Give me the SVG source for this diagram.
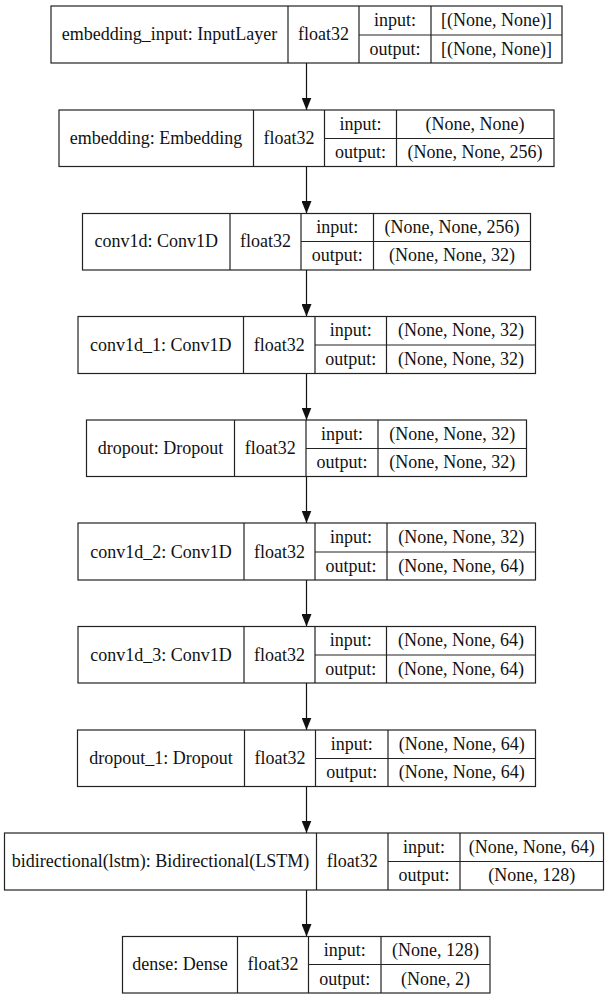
<svg xmlns="http://www.w3.org/2000/svg" width="605" height="994" viewBox="0 0 605 994">
<style>
  .box{fill:#fff;stroke:#222;stroke-width:1.2}
  .ln{stroke:#222;stroke-width:1.2;fill:none}
  .edge{stroke:#111;stroke-width:1.2;fill:none}
  text{font-family:'Liberation Serif','Times New Roman',serif;font-size:18px;fill:#111;text-anchor:middle}
</style>
<defs>
  <marker id="ah" markerUnits="userSpaceOnUse" markerWidth="12.5" markerHeight="10" refX="12.5" refY="5" orient="auto">
    <path d="M0,0 L12.5,5 L0,10 z" fill="#111"/>
  </marker>
</defs>
<rect width="605" height="994" fill="#fff"/>
<g id="connectors">
  <line class="edge" x1="306.5" y1="63" x2="306.5" y2="110" marker-end="url(#ah)"/>
  <line class="edge" x1="306.5" y1="166.5" x2="306.5" y2="213.5" marker-end="url(#ah)"/>
  <line class="edge" x1="306.5" y1="270" x2="306.5" y2="316.5" marker-end="url(#ah)"/>
  <line class="edge" x1="306.5" y1="373.5" x2="306.5" y2="420" marker-end="url(#ah)"/>
  <line class="edge" x1="306.5" y1="476.5" x2="306.5" y2="523" marker-end="url(#ah)"/>
  <line class="edge" x1="306.5" y1="580" x2="306.5" y2="626.5" marker-end="url(#ah)"/>
  <line class="edge" x1="306.5" y1="683" x2="306.5" y2="730" marker-end="url(#ah)"/>
  <line class="edge" x1="306.5" y1="786.5" x2="306.5" y2="833" marker-end="url(#ah)"/>
  <line class="edge" x1="306.5" y1="890" x2="306.5" y2="936.5" marker-end="url(#ah)"/>
</g>
<g id="embedding_input">
  <rect class="box" x="51" y="6" width="511" height="57"/>
  <path class="ln" d="M288,6V63 M359,6V63 M431,6V63 M359,35H562"/>
  <text x="169.5" y="40">embedding_input: InputLayer</text>
  <text x="323.5" y="40">float32</text>
  <text x="395" y="26">input:</text>
  <text x="395" y="54.5">output:</text>
  <text x="496.5" y="26">[(None, None)]</text>
  <text x="496.5" y="54.5">[(None, None)]</text>
</g>
<g id="embedding">
  <rect class="box" x="59" y="110" width="495" height="56.5"/>
  <path class="ln" d="M253.5,110V166.5 M324.5,110V166.5 M396.5,110V166.5 M324.5,138.5H554"/>
  <text x="156" y="143.5">embedding: Embedding</text>
  <text x="289" y="143.5">float32</text>
  <text x="360.5" y="129.5">input:</text>
  <text x="360.5" y="158">output:</text>
  <text x="475" y="129.5">(None, None)</text>
  <text x="475" y="158">(None, None, 256)</text>
</g>
<g id="conv1d">
  <rect class="box" x="82.5" y="213.5" width="448" height="56.5"/>
  <path class="ln" d="M230,213.5V270 M301,213.5V270 M373.5,213.5V270 M301,241.5H530.5"/>
  <text x="156.3" y="247">conv1d: Conv1D</text>
  <text x="265.5" y="247">float32</text>
  <text x="337.3" y="233">input:</text>
  <text x="337.3" y="261">output:</text>
  <text x="452" y="233">(None, None, 256)</text>
  <text x="452" y="261">(None, None, 32)</text>
</g>
<g id="conv1d_1">
  <rect class="box" x="78" y="316.5" width="457.5" height="57"/>
  <path class="ln" d="M243.5,316.5V373.5 M315,316.5V373.5 M386.5,316.5V373.5 M315,345H535.5"/>
  <text x="160.8" y="350.5">conv1d_1: Conv1D</text>
  <text x="279.3" y="350.5">float32</text>
  <text x="350.8" y="336">input:</text>
  <text x="350.8" y="364.5">output:</text>
  <text x="461" y="336">(None, None, 32)</text>
  <text x="461" y="364.5">(None, None, 32)</text>
</g>
<g id="dropout">
  <rect class="box" x="86.5" y="420" width="440" height="56.5"/>
  <path class="ln" d="M234.5,420V476.5 M306,420V476.5 M378,420V476.5 M306,448.5H526.5"/>
  <text x="160.5" y="454">dropout: Dropout</text>
  <text x="270.3" y="454">float32</text>
  <text x="342" y="439.5">input:</text>
  <text x="342" y="468">output:</text>
  <text x="452.3" y="439.5">(None, None, 32)</text>
  <text x="452.3" y="468">(None, None, 32)</text>
</g>
<g id="conv1d_2">
  <rect class="box" x="78" y="523" width="457.5" height="57"/>
  <path class="ln" d="M244,523V580 M315,523V580 M387,523V580 M315,552H535.5"/>
  <text x="161" y="557.5">conv1d_2: Conv1D</text>
  <text x="279.5" y="557.5">float32</text>
  <text x="351" y="543">input:</text>
  <text x="351" y="571.5">output:</text>
  <text x="461.3" y="543">(None, None, 32)</text>
  <text x="461.3" y="571.5">(None, None, 64)</text>
</g>
<g id="conv1d_3">
  <rect class="box" x="78" y="626.5" width="457.5" height="56.5"/>
  <path class="ln" d="M244,626.5V683 M315,626.5V683 M386.5,626.5V683 M315,655H535.5"/>
  <text x="161" y="660.5">conv1d_3: Conv1D</text>
  <text x="279.5" y="660.5">float32</text>
  <text x="350.8" y="646">input:</text>
  <text x="350.8" y="674.5">output:</text>
  <text x="461" y="646">(None, None, 64)</text>
  <text x="461" y="674.5">(None, None, 64)</text>
</g>
<g id="dropout_1">
  <rect class="box" x="77.5" y="730" width="458" height="56.5"/>
  <path class="ln" d="M244.5,730V786.5 M315.5,730V786.5 M388,730V786.5 M315.5,758.5H535.5"/>
  <text x="161" y="764">dropout_1: Dropout</text>
  <text x="280" y="764">float32</text>
  <text x="351.8" y="749.5">input:</text>
  <text x="351.8" y="778">output:</text>
  <text x="461.8" y="749.5">(None, None, 64)</text>
  <text x="461.8" y="778">(None, None, 64)</text>
</g>
<g id="bidirectional_lstm">
  <rect class="box" x="4.5" y="833" width="599" height="57"/>
  <path class="ln" d="M316.5,833V890 M388,833V890 M460,833V890 M388,861.5H603.5"/>
  <text x="160.5" y="867">bidirectional(lstm): Bidirectional(LSTM)</text>
  <text x="352.3" y="867">float32</text>
  <text x="424" y="852.5">input:</text>
  <text x="424" y="881">output:</text>
  <text x="531.8" y="852.5">(None, None, 64)</text>
  <text x="531.8" y="881">(None, 128)</text>
</g>
<g id="dense">
  <rect class="box" x="122.5" y="936.5" width="367.5" height="56.5"/>
  <path class="ln" d="M237.5,936.5V993 M308.5,936.5V993 M381,936.5V993 M308.5,964.5H490"/>
  <text x="180" y="970">dense: Dense</text>
  <text x="273" y="970">float32</text>
  <text x="344.8" y="956">input:</text>
  <text x="344.8" y="984.5">output:</text>
  <text x="435.5" y="956">(None, 128)</text>
  <text x="435.5" y="984.5">(None, 2)</text>
</g>
</svg>
